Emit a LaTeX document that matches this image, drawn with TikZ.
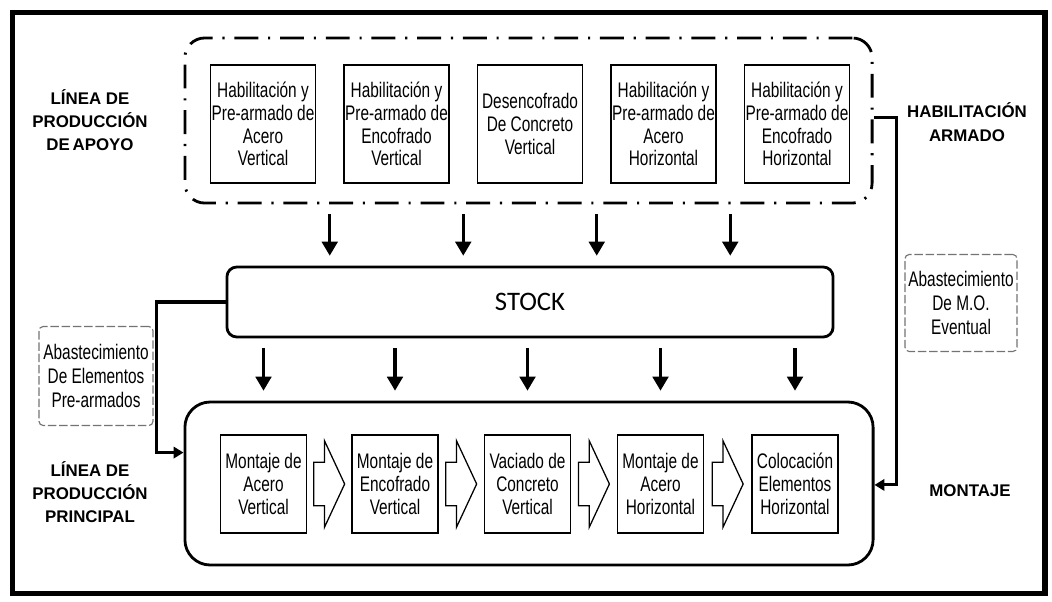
\documentclass[tikz,border=0pt]{standalone}
\usepackage{fontspec}
\setmainfont{Liberation Sans}
\newfontfamily\narrowfont[FakeStretch=0.73]{Liberation Sans}
\newfontfamily\stockfont{Carlito}
\usepackage{tikz}
\usetikzlibrary{arrows.meta}
\usetikzlibrary{shapes.arrows}
\usetikzlibrary{calc}

\tikzset{
etapa/.style={draw, line width=0.9pt, align=center, inner sep=0pt,
  font=\narrowfont\fontsize{15}{16.2}\selectfont},
bajada/.style={line width=2.4pt, -{Triangle[length=10pt,width=11pt]},
  shorten <=7pt, shorten >=7pt},
enlace/.style={line width=2.2pt, -{Triangle[length=7pt,width=8pt]}},
bloque/.style={single arrow, draw, line width=0.9pt, inner xsep=0pt, inner ysep=15pt,
  minimum height=22pt, anchor=tail, xshift=-11.5pt,
  single arrow head extend=15.3pt, single arrow tip angle=130},
rotulo/.style={align=center, font=\bfseries\fontsize{12}{16.5}\selectfont},
abasto/.style={draw=black!55, line width=0.8pt, dash pattern=on 6pt off 2pt,
  rounded corners=3pt, align=center, inner sep=0pt,
  font=\narrowfont\fontsize{15}{17}\selectfont}
}

\begin{document}
\begin{tikzpicture}[x=0.025cm,y=-0.025cm]
\useasboundingbox (0,0) rectangle (1052,601);
% outer frame
\draw[line width=3.8pt] (12.5,12.5) rectangle (1045,593.5);
% containers
\node[draw, line width=2pt, rounded corners=14pt,
  dash pattern=on 17pt off 7pt on 1.5pt off 7pt,
  minimum width=17.175cm, minimum height=4.125cm] (apoyo) at (528.5,120.5) {};
\node[draw, line width=2pt, rounded corners=7pt,
  minimum width=15.15cm, minimum height=1.75cm,
  font=\stockfont\fontsize{19}{22}\selectfont] (stock) at (530,302) {STOCK};
\node[draw, line width=2pt, rounded corners=18pt,
  minimum width=17.2cm, minimum height=4.075cm] (linea) at (529,483.5) {};
% support line
\node[etapa, minimum width=2.625cm, minimum height=2.95cm] (h1) at (263,124)
  {Habilitación y\\Pre-armado de\\Acero\\Vertical};
\node[etapa, minimum width=2.625cm, minimum height=2.95cm] (h2) at (396.5,124)
  {Habilitación y\\Pre-armado de\\Encofrado\\Vertical};
\node[etapa, minimum width=2.625cm, minimum height=2.95cm] (h3) at (530,124)
  {Desencofrado\\De Concreto\\Vertical};
\node[etapa, minimum width=2.625cm, minimum height=2.95cm] (h4) at (663.5,124)
  {Habilitación y\\Pre-armado de\\Acero\\Horizontal};
\node[etapa, minimum width=2.625cm, minimum height=2.95cm] (h5) at (797,124)
  {Habilitación y\\Pre-armado de\\Encofrado\\Horizontal};
% main line
\node[etapa, minimum width=2.15cm, minimum height=2.45cm] (m1) at (263.5,484)
  {Montaje de\\Acero\\Vertical};
\node[etapa, minimum width=2.15cm, minimum height=2.45cm] (m2) at (395,484)
  {Montaje de\\Encofrado\\Vertical};
\node[etapa, minimum width=2.15cm, minimum height=2.45cm] (m3) at (527.5,484)
  {Vaciado de\\Concreto\\Vertical};
\node[etapa, minimum width=2.15cm, minimum height=2.45cm] (m4) at (660.5,484)
  {Montaje de\\Acero\\Horizontal};
\node[etapa, minimum width=2.15cm, minimum height=2.45cm] (m5) at (795,484)
  {Colocación\\Elementos\\Horizontal};
% block arrows between steps
\foreach \a/\b in {m1/m2,m2/m3,m3/m4,m4/m5}
  \node[bloque] (f\a) at ($(\a.east)!.5!(\b.west)$) {};
% arrows into stock
\foreach \a/\b in {h1/h2,h2/h3,h3/h4,h4/h5} {
  \coordinate (g\a) at ($(\a.east)!.5!(\b.west)$);
  \draw[bajada] (g\a |- apoyo.south) -- (g\a |- stock.north);
}
% arrows out of stock
\foreach \a in {m1,m2,m3,m4,m5}
  \draw[bajada] (\a |- stock.south) -- (\a |- linea.north);
% side connectors
\draw[enlace] (stock.west) -- ++(-69,0) |- ([yshift=22pt]linea.west);
\draw[enlace] ([yshift=2pt]apoyo.east) -- ++(23,0) |- ([yshift=-1pt]linea.east);
% supply boxes
\node[abasto, minimum width=2.85cm, minimum height=2.475cm] (elem) at (96,376)
  {Abastecimiento\\De Elementos\\Pre-armados};
\node[abasto, minimum width=2.8cm, minimum height=2.425cm] (mo) at (961,303)
  {Abastecimiento\\De M.O.\\Eventual};
% labels
\node[rotulo] (lapoyo) at (90,120) {LÍNEA DE\\PRODUCCIÓN\\DE\,APOYO};
\node[rotulo] (lprincipal) at (90,492) {LÍNEA DE\\PRODUCCIÓN\\PRINCIPAL};
\node[rotulo] (lhab) at (967,122) {HABILITACIÓN\\ARMADO};
\node[rotulo] (lmont) at (970,491) {MONTAJE};
\end{tikzpicture}
\end{document}
